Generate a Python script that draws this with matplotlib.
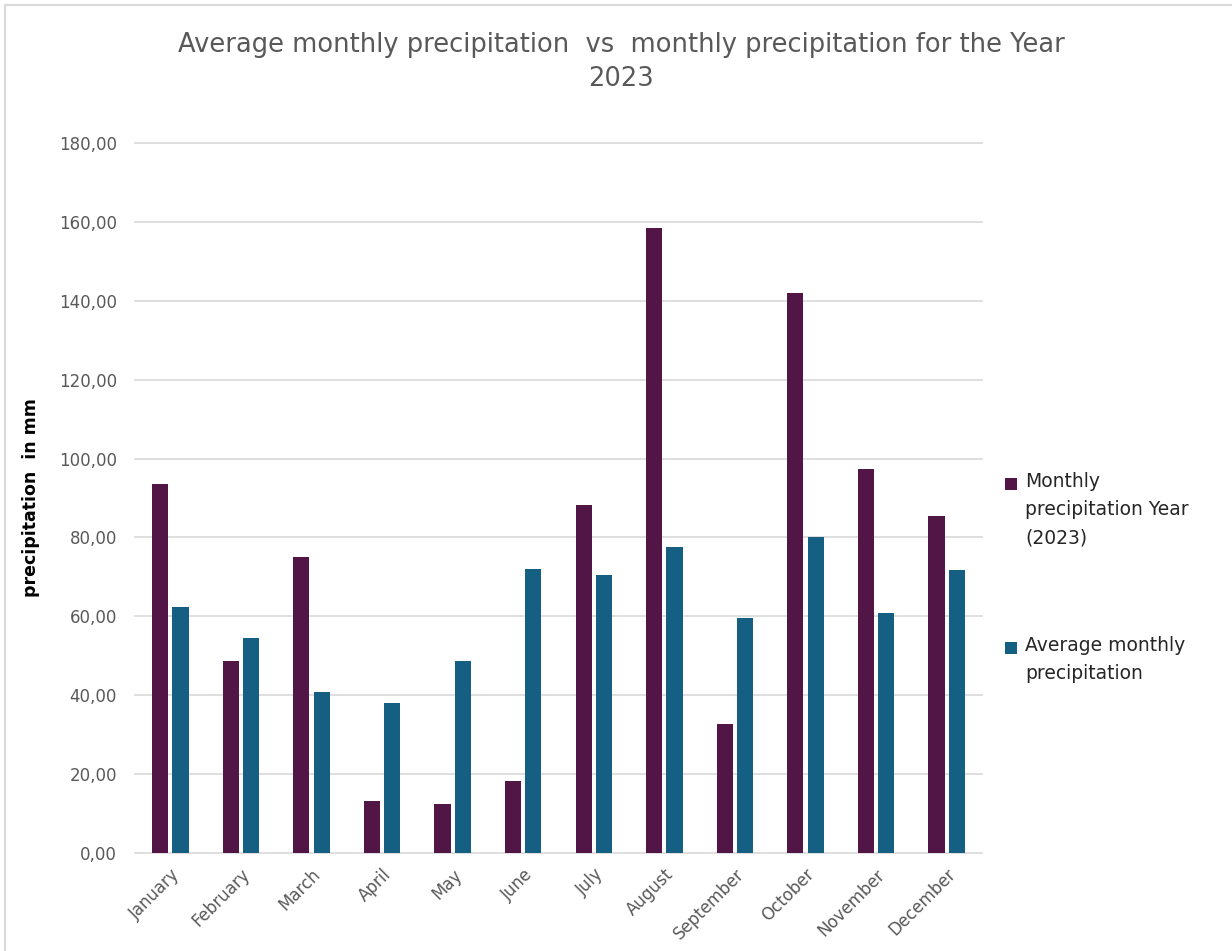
import matplotlib
matplotlib.use("Agg")
import matplotlib.pyplot as plt
from matplotlib.patches import Rectangle
import numpy as np

months = ["January", "February", "March", "April", "May", "June", "July",
          "August", "September", "October", "November", "December"]
precip_2023 = [93.5, 48.7, 75.0, 13.1, 12.3, 18.3, 88.3, 158.5, 32.6, 142.0, 97.4, 85.5]
precip_avg = [62.3, 54.4, 40.9, 38.0, 48.6, 72.0, 70.5, 77.7, 59.7, 80.2, 60.8, 71.8]
yticks = np.arange(0, 181, 20)

purple = "#511546"
teal = "#156082"
grey_txt = "#595959"
grid_col = "#d9d9d9"

W, H = 1232, 951
fig = plt.figure(figsize=(W / 100, H / 100), dpi=100)
ax = fig.add_axes([135 / W, 1 - 853 / H, (982 - 135) / W, (853 - 143) / H])

x = np.arange(len(months))
bw = 0.23
off = 0.144
ax.bar(x - off, precip_2023, bw, color=purple, zorder=3)
ax.bar(x + off, precip_avg, bw, color=teal, zorder=3)

ax.set_xlim(-0.5, len(months) - 0.5)
ax.set_ylim(0, 180)
ax.set_yticks(yticks)
ax.set_yticklabels([f"{v:.2f}".replace(".", ",") for v in yticks],
                   color=grey_txt, fontsize=12)
ax.set_xticks(x)
ax.set_xticklabels(months, rotation=45, ha="right", rotation_mode="anchor",
                   color=grey_txt, fontsize=12)
ax.tick_params(axis="y", length=0, pad=13)
ax.tick_params(axis="x", length=0, pad=9)
for s in ax.spines.values():
    s.set_visible(False)
ax.yaxis.grid(True, color=grid_col, linewidth=1.2, zorder=0)
ax.set_axisbelow(True)
for gl in ax.get_ygridlines():
    gl.set_clip_on(False)

ax.set_ylabel("precipitation  in mm", fontsize=12.5, fontweight="bold",
              color="black")
ax.yaxis.set_label_coords(-(135 - 40) / (982 - 135), 0.5)

fig.text(621 / W, 1 - 62 / H,
         "Average monthly precipitation  vs  monthly precipitation for the Year\n2023",
         ha="center", va="center", fontsize=18.5, color=grey_txt, linespacing=1.45,
         family=["Liberation Sans Narrow", "DejaVu Sans"])

# legend drawn by hand so the swatch sits on the first text line
entries = [(purple, "Monthly\nprecipitation Year\n(2023)", 472),
           (teal, "Average monthly\nprecipitation", 636)]
for col, label, ytop in entries:
    fig.patches.append(Rectangle((1005 / W, 1 - (ytop + 18) / H), 12 / W, 12 / H,
                                 transform=fig.transFigure, facecolor=col,
                                 edgecolor="none"))
    fig.text(1025 / W, 1 - ytop / H, label, ha="left", va="top", fontsize=13.5,
             color="#262626", linespacing=1.6)

# chart frame
fig.patches.append(Rectangle((5 / W, -0.1), 1.2, 1 - 5 / H + 0.1,
                             transform=fig.transFigure, facecolor="none",
                             edgecolor=grid_col, linewidth=1.5))

fig.savefig("out.png", dpi=100)
